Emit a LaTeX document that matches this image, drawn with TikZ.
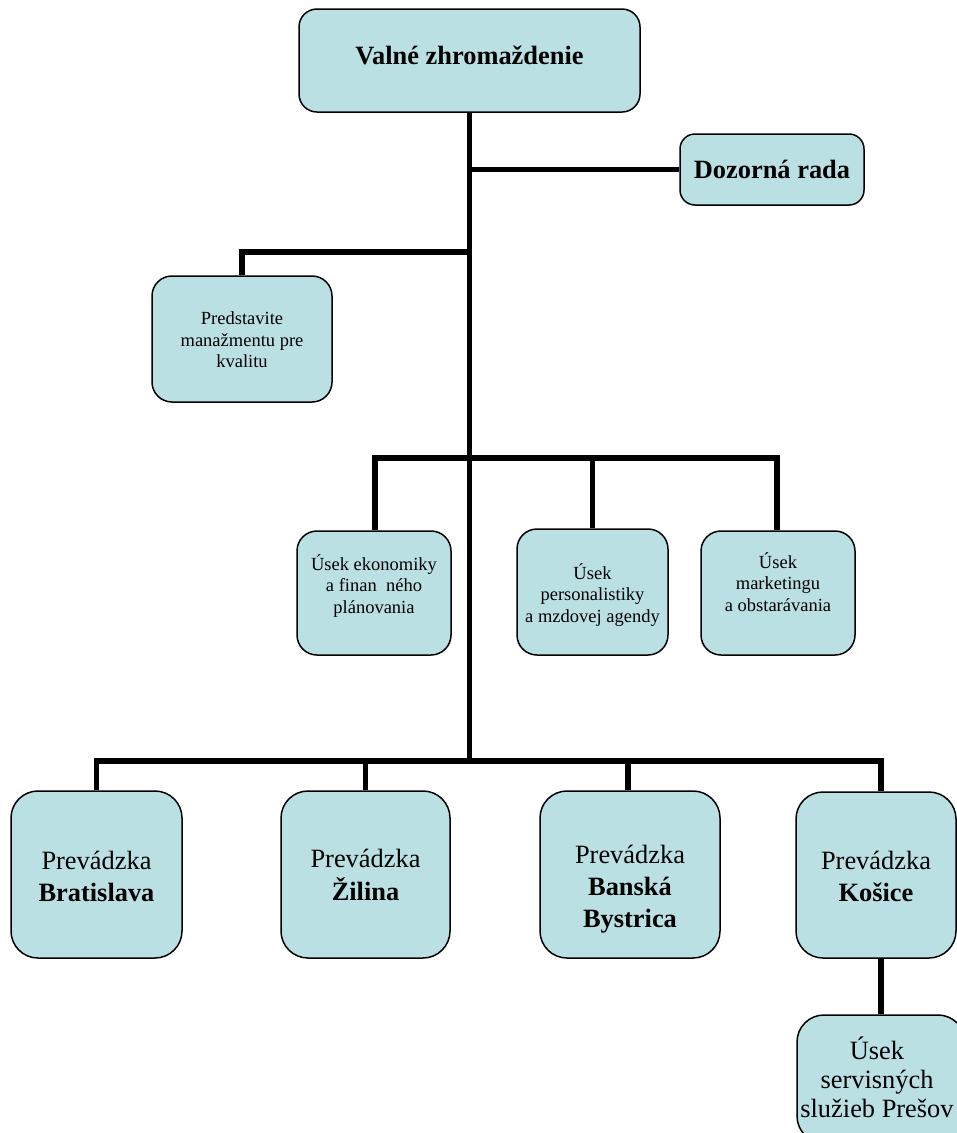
\documentclass[tikz,border=0pt]{standalone}
\usepackage{fontspec}
\setmainfont{Liberation Serif}
\definecolor{boxfill}{RGB}{187,224,227}
\newcommand\boxtext[2][0pt]{\raisebox{#1}[\height][\depth]{\begin{tabular}{@{}c@{}}#2\end{tabular}}}
\tikzset{
  orgbox/.style={draw=black, line width=1.5pt, fill=boxfill, inner sep=0pt, rounded corners=#1},
  orgbox/.default=20pt,
  bigfont/.style={font=\fontsize{26.4}{32}\selectfont},
  smallfont/.style={font=\fontsize{18.5}{21.5}\selectfont},
  conn/.style={draw=black, line width=5.5pt, line join=miter}
}
\begin{document}
\begin{tikzpicture}[x=1pt,y=-1pt]
\useasboundingbox (0,0) rectangle (957,1133);
\fill[white] (0,0) rectangle (957,1133);
\clip (0,0) rectangle (957,1133);

% nodes
\node[orgbox=18pt, bigfont, minimum width=341pt, minimum height=103pt] (vz) at (469.5,60.5) {\boxtext[2pt]{\textbf{Valné zhromaždenie}}};
\node[orgbox=15pt, bigfont, minimum width=184pt, minimum height=71pt] (dr) at (772,169.5) {\boxtext[-3pt]{\textbf{Dozorná rada}}};
\node[orgbox=20pt, smallfont, minimum width=180pt, minimum height=126pt] (pq) at (242,339) {\boxtext[-3pt]{Predstavite\\manažmentu pre\\kvalitu}};

\node[orgbox=20pt, smallfont, minimum width=154pt, minimum height=124pt] (e1) at (374,593) {\boxtext[6pt]{Úsek ekonomiky\\a finan\ \ ného\\plánovania}};
\node[orgbox=20pt, smallfont, minimum width=151pt, minimum height=126pt] (e2) at (592.5,592) {\boxtext[-4pt]{Úsek\\personalistiky\\a mzdovej agendy}};
\node[orgbox=20pt, smallfont, minimum width=154pt, minimum height=124pt] (e3) at (778,593) {\boxtext[8pt]{Úsek\\marketingu\\a obstarávania}};

\node[orgbox=27pt, bigfont, minimum width=171pt, minimum height=167pt] (p1) at (96.5,874.5) {\boxtext[-5pt]{Prevádzka\\\textbf{Bratislava}}};
\node[orgbox=27pt, bigfont, minimum width=169pt, minimum height=167pt] (p2) at (365.5,874.5) {\boxtext[-3pt]{Prevádzka\\\textbf{Žilina}}};
\node[orgbox=27pt, bigfont, minimum width=180pt, minimum height=167pt] (p3) at (630,874.5) {\boxtext[-15pt]{Prevádzka\\\textbf{Banská}\\\textbf{Bystrica}}};
\node[orgbox=27pt, bigfont, minimum width=160pt, minimum height=166pt] (p4) at (876,875) {\boxtext[-4pt]{Prevádzka\\\textbf{Košice}}};
\node[orgbox=27pt, font=\fontsize{26.4}{29}\selectfont, minimum width=168pt, minimum height=128pt] (s1) at (881,1079) {\boxtext[-3pt]{\hspace*{-8pt}Úsek\\\hspace*{-8pt}servisných\\\hspace*{-8pt}služieb Prešov}};

% junction points on the main line
\coordinate (jq) at (469.5,252);
\coordinate (jm) at (469.5,458);
\coordinate (jb) at (469.5,761);

% connectors
\draw[conn] (vz.south) -- (jb);
\draw[conn] (vz.south |- dr.west) -- (dr.west);
\draw[conn] (jq) -| (pq.north);
\draw[conn] (jm) -| ([xshift=1pt]e1.north);
\draw[conn] (jm) -| (e2.north);
\draw[conn] (jm) -| ([xshift=-1pt]e3.north);
\draw[conn] (jb) -| (p1.north);
\draw[conn] (jb) -| (p2.north);
\draw[conn] (jb) -| ([xshift=-2pt]p3.north);
\draw[conn] (jb) -| ([xshift=5pt]p4.north);
\draw[conn] ([xshift=5pt]p4.south) -- (s1.north);
\end{tikzpicture}
\end{document}
